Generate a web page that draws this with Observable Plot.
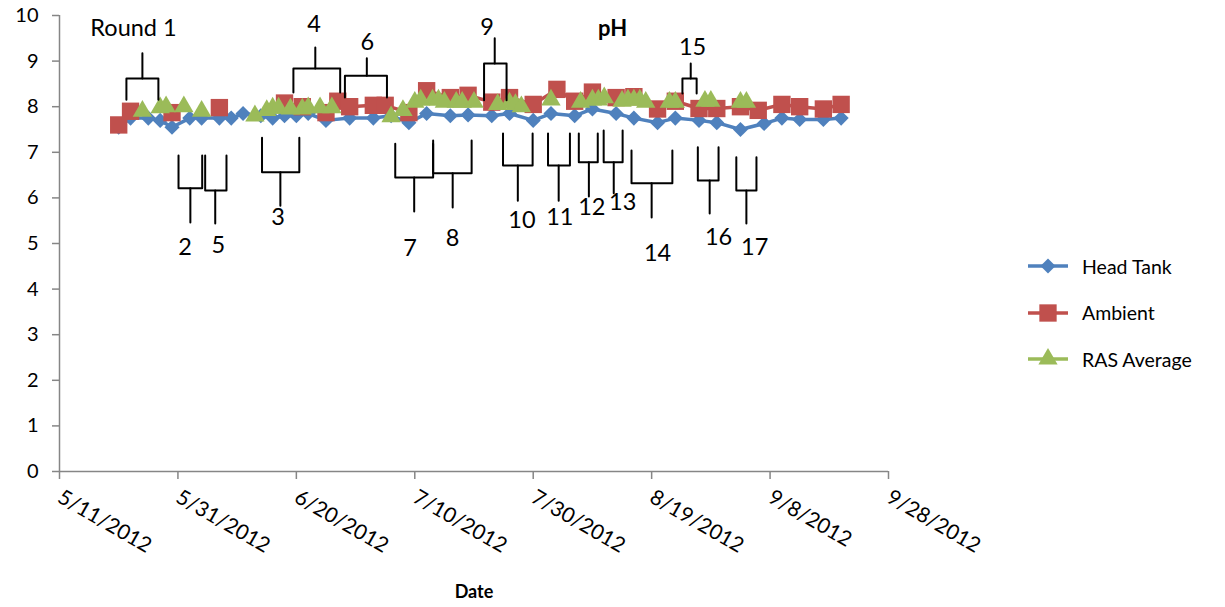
<!DOCTYPE html>
<html>
<head>
<meta charset="utf-8">
<script src="https://cdn.jsdelivr.net/npm/d3@7"></script>
<script src="https://cdn.jsdelivr.net/npm/@observablehq/plot@0.6"></script>
<style>
  body { margin: 0; background: #fff; }
  #wrap { position: relative; width: 1225px; height: 607px; font-family: Lato, "Open Sans", sans-serif; }
  #title { position: absolute; left: 598px; top: 14px; font-size: 22px; font-weight: bold; color: #000; }
  #legend { position: absolute; left: 1026px; top: 243px; }
  .item { display: flex; align-items: center; height: 46.5px; font-size: 19.5px; color: #000; }
  .item svg { margin-right: 12px; }
</style>
</head>
<body>
<div id="wrap">
  <div id="chart"></div>
  <div id="title">pH</div>
  <div id="legend"></div>
</div>
<script>
// ---- data ----
const headTankDates = ["2012-05-21","2012-05-23","2012-05-26","2012-05-28","2012-05-30","2012-06-02","2012-06-04","2012-06-07","2012-06-09","2012-06-11","2012-06-14","2012-06-16","2012-06-18","2012-06-20","2012-06-22","2012-06-25","2012-06-29","2012-07-03","2012-07-06","2012-07-09","2012-07-12","2012-07-16","2012-07-19","2012-07-23","2012-07-26","2012-07-30","2012-08-02","2012-08-06","2012-08-09","2012-08-13","2012-08-16","2012-08-20","2012-08-23","2012-08-27","2012-08-30","2012-09-03","2012-09-07","2012-09-10","2012-09-13","2012-09-17","2012-09-20"];
const headTankValues = [7.55,7.75,7.75,7.7,7.55,7.75,7.75,7.75,7.75,7.85,7.8,7.75,7.8,7.8,7.85,7.7,7.75,7.75,7.8,7.65,7.85,7.8,7.82,7.8,7.85,7.7,7.85,7.8,7.95,7.85,7.75,7.65,7.75,7.7,7.65,7.5,7.63,7.75,7.72,7.72,7.75];

const ambientDates = ["2012-05-21","2012-05-23","2012-05-30","2012-06-07","2012-06-18","2012-06-21","2012-06-25","2012-06-27","2012-06-29","2012-07-03","2012-07-05","2012-07-09","2012-07-12","2012-07-16","2012-07-19","2012-07-23","2012-07-26","2012-07-30","2012-08-03","2012-08-06","2012-08-09","2012-08-13","2012-08-16","2012-08-20","2012-08-23","2012-08-27","2012-08-30","2012-09-03","2012-09-06","2012-09-10","2012-09-13","2012-09-17","2012-09-20"];
const ambientValues = [7.6,7.9,7.87,7.98,8.08,8.0,7.87,8.12,8.0,8.03,8.03,7.87,8.35,8.2,8.25,8.1,8.2,8.05,8.38,8.12,8.32,8.2,8.22,7.95,8.12,7.96,7.96,8.0,7.92,8.05,8.0,7.95,8.05];

const rasDates = ["2012-05-25","2012-05-28","2012-05-29","2012-06-01","2012-06-04","2012-06-13","2012-06-15","2012-06-16","2012-06-17","2012-06-19","2012-06-21","2012-06-22","2012-06-24","2012-06-26","2012-07-06","2012-07-08","2012-07-10","2012-07-11","2012-07-13","2012-07-14","2012-07-15","2012-07-17","2012-07-18","2012-07-20","2012-07-24","2012-07-26","2012-07-27","2012-07-28","2012-08-02","2012-08-07","2012-08-09","2012-08-10","2012-08-11","2012-08-14","2012-08-15","2012-08-16","2012-08-17","2012-08-18","2012-08-22","2012-08-23","2012-08-28","2012-08-29","2012-09-03","2012-09-04"];
const rasValues = [7.9,7.98,8.0,8.0,7.9,7.8,7.92,7.97,7.97,7.95,7.95,7.98,7.98,7.98,7.78,7.92,8.1,8.15,8.15,8.15,8.1,8.1,8.1,8.1,8.05,8.08,8.05,8.0,8.15,8.1,8.15,8.15,8.2,8.12,8.15,8.15,8.15,8.1,8.1,8.1,8.12,8.12,8.1,8.1];

const xTickLabels = ["2012-05-11","2012-05-31","2012-06-20","2012-07-10","2012-07-30","2012-08-19","2012-09-08","2012-09-28"];
const yTicks = [0,1,2,3,4,5,6,7,8,9,10];

// Round annotations (braces): day offsets from 5/11/2012 and pH levels
const roundLabels = ["Round 1","4","6","9","15","2","5","3","7","8","10","11","12","13","14","16","17"];
const roundStart  = [11.3,39.5,48.2,71.7,105.2,20.1,24.6,34.2,56.7,63.1,74.9,82.5,87.7,91.9,96.6,107.8,114.3];
const roundEnd    = [16.7,47.4,55.3,75.5,107.6,24.1,28.2,40.5,63.1,69.6,79.9,86.2,90.9,95.1,103.5,111.3,117.7];
const roundTip    = [14.0,43.2,51.9,73.5,106.6,22.1,26.3,37.3,59.9,66.4,77.4,84.3,89.4,93.6,100.0,109.8,116.0];
const roundLegY   = [8.15,8.31,8.2,8.14,8.29,6.93,6.93,7.32,7.19,7.26,7.41,7.41,7.41,7.48,7.04,7.11,6.89];
const roundBarY   = [8.62,8.84,8.68,8.95,8.62,6.21,6.16,6.56,6.45,6.54,6.71,6.71,6.78,6.78,6.32,6.38,6.16];
const roundTipY   = [9.17,9.30,9.06,9.50,8.95,5.46,5.44,5.83,5.70,5.79,5.94,5.94,6.03,6.10,5.57,5.66,5.44];
const roundLabelX = [12.5,43.0,52.0,72.2,106.9,21.2,26.8,36.9,59.2,66.4,78.1,84.5,89.9,95.1,101.0,111.3,117.4];
const roundLabelY = [9.72,9.80,9.41,9.74,9.30,4.91,4.96,5.57,4.89,5.11,5.50,5.57,5.79,5.90,4.78,5.13,4.91];

// ---- build ----
const origin = Date.UTC(2012, 4, 11);
const dayToDate = d => new Date(origin + d * 864e5);
const parse = s => new Date(s);

const headTank = headTankDates.map((d, i) => ({date: parse(d), value: headTankValues[i]}));
const ras = rasDates.map((d, i) => ({date: parse(d), value: rasValues[i]}));
const xTicks = xTickLabels.map(parse);
// ambient: readings with long gaps between them are not joined
let seg = 0;
const ambient = ambientDates.map((d, i) => {
  const date = parse(d);
  if (i > 0 && (date - parse(ambientDates[i - 1])) / 864e5 > 5) seg++;
  return {date, value: ambientValues[i], seg};
});

const braceLines = [];
roundLabels.forEach((lab, i) => {
  const x1 = dayToDate(roundStart[i]), x2 = dayToDate(roundEnd[i]), xt = dayToDate(roundTip[i]);
  const leg = roundLegY[i], bar = roundBarY[i], tip = roundTipY[i];
  const k = i + "-";
  braceLines.push({k: k + "a", date: x1, v: leg}, {k: k + "a", date: x1, v: bar}, {k: k + "a", date: xt, v: bar}, {k: k + "a", date: xt, v: tip});
  braceLines.push({k: k + "b", date: x2, v: leg}, {k: k + "b", date: x2, v: bar}, {k: k + "b", date: xt, v: bar});
});
const braceText = roundLabels.map((lab, i) => ({label: lab, date: dayToDate(roundLabelX[i]), v: roundLabelY[i]}));

const blue = "#4F81BD", red = "#C0504D", green = "#9BBB59", axisGray = "#868686";
const font = "Lato, 'Open Sans', sans-serif";

const chart = Plot.plot({
  width: 1225,
  height: 607,
  marginLeft: 59,
  marginRight: 337,
  marginTop: 15,
  marginBottom: 136,
  style: {fontFamily: font, fontSize: "20px", color: "#000", background: "#fff", overflow: "visible"},
  x: {type: "utc", domain: [xTicks[0], xTicks[xTicks.length - 1]]},
  y: {domain: [0, 10]},
  marks: [
    Plot.axisY({ticks: yTicks, tickSize: 7, tickPadding: 14, stroke: axisGray, strokeWidth: 1.5, label: null, fontSize: 20, tickFormat: d => String(d)}),
    Plot.axisX({ticks: xTicks, tickSize: 8, stroke: axisGray, strokeWidth: 1.5, tickFormat: d3.utcFormat("%-m/%-d/%Y"), tickRotate: 30, tickPadding: 16, fontSize: 21, label: "Date", labelAnchor: "center", labelOffset: 126, labelArrow: "none"}),
    Plot.ruleX([xTicks[0]], {stroke: axisGray, strokeWidth: 1.5}),
    Plot.ruleY([0], {stroke: axisGray, strokeWidth: 1.5}),
    Plot.line(headTank, {x: "date", y: "value", stroke: blue, strokeWidth: 3.5}),
    Plot.dot(headTank, {x: "date", y: "value", symbol: "diamond2", r: 6.8, fill: blue, stroke: "none"}),
    Plot.line(ambient, {x: "date", y: "value", z: "seg", stroke: red, strokeWidth: 3.5}),
    Plot.dot(ambient, {x: "date", y: "value", symbol: "square", r: 9.8, fill: red, stroke: "none"}),
    Plot.dot(ras, {x: "date", y: "value", symbol: "triangle", r: 7.2, fill: green, stroke: "none"}),
    Plot.line(braceLines, {x: "date", y: "v", z: "k", stroke: "#000", strokeWidth: 2, strokeLinejoin: "round"}),
    Plot.text(braceText, {x: "date", y: "v", text: "label", fontSize: 23.5, fill: "#000"})
  ]
});
document.getElementById("chart").appendChild(chart);

// x label bold
chart.querySelectorAll("[aria-label='x-axis label'] text").forEach(t => { t.setAttribute("font-weight", "bold"); t.setAttribute("font-size", "18"); });

// legend
const legendItems = [
  {name: "Head Tank", color: blue, symbol: d3.symbolDiamond2, size: 145},
  {name: "Ambient", color: red, symbol: d3.symbolSquare, size: 300},
  {name: "RAS Average", color: green, symbol: d3.symbolTriangle, size: 160}
];
const leg = document.getElementById("legend");
legendItems.forEach(it => {
  const div = document.createElement("div");
  div.className = "item";
  const path = d3.symbol(it.symbol, it.size)();
  div.innerHTML = `<svg width="44" height="24"><line x1="2" x2="42" y1="12" y2="12" stroke="${it.color}" stroke-width="3.5"/><path d="${path}" transform="translate(22,12)" fill="${it.color}"/></svg><span>${it.name}</span>`;
  leg.appendChild(div);
});
</script>
</body>
</html>
